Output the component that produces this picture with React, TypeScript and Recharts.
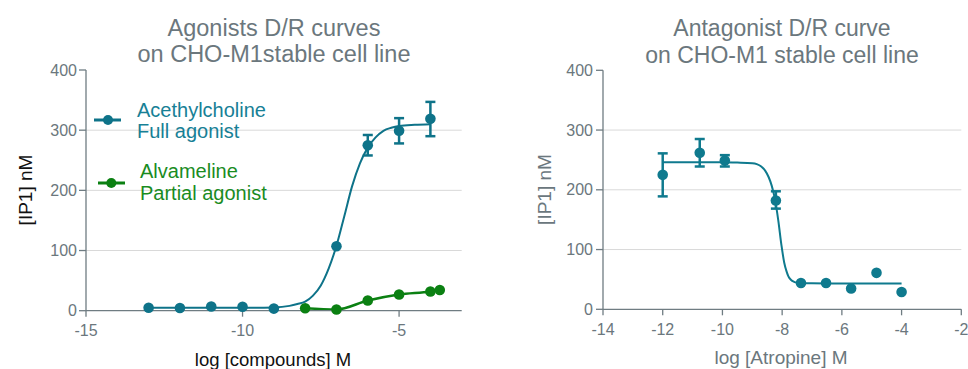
import React from 'react';
import { ComposedChart, Line, Scatter, XAxis, YAxis, ErrorBar, ReferenceLine } from 'recharts';

const FONT = '"Liberation Sans", Arial, Helvetica, sans-serif';
const TEAL = '#0e7389';
const TEAL_TEXT = '#178096';
const TEAL_R = '#0f7a8e';
const GREEN = '#0b8012';
const GREEN_TEXT = '#1a8c1f';
const AXIS = '#6f7c82';
const TICK_TEXT = '#6b777d';
const GRID = '#d9d9d9';

// shared axis values
const yTicks = [0, 100, 200, 300, 400];
const gridValues = [100, 200, 300];
const leftXTicks = [-15, -10, -5];
const rightXTicks = [-14, -12, -10, -8, -6, -4, -2];

// Left panel: Acetylcholine (full agonist)
const achPoints = [
  { x: -13, y: 5 },
  { x: -12, y: 4.5 },
  { x: -11, y: 7 },
  { x: -10, y: 6.5 },
  { x: -9, y: 3.5 },
  { x: -7, y: 107 },
];
const achPointsErr = [
  { x: -6, y: 275, err: [17, 17] },
  { x: -5, y: 299, err: [21, 21] },
  { x: -4, y: 319, err: [29, 28] },
];
const achCurve = [
  { x: -13, y: 5 }, { x: -12, y: 5 }, { x: -11, y: 5 }, { x: -10, y: 5 },
  { x: -9, y: 5.5 }, { x: -8.5, y: 8 }, { x: -8.25, y: 11 }, { x: -8, y: 15 },
  { x: -7.75, y: 25 }, { x: -7.5, y: 42 }, { x: -7.25, y: 70 }, { x: -7, y: 108 },
  { x: -6.75, y: 157 }, { x: -6.5, y: 207 }, { x: -6.25, y: 245 }, { x: -6, y: 271 },
  { x: -5.75, y: 288 }, { x: -5.5, y: 299 }, { x: -5.25, y: 304 }, { x: -5, y: 307 },
  { x: -4.5, y: 309 }, { x: -4, y: 310 },
];

// Left panel: Alvameline (partial agonist)
const alvPoints = [
  { x: -8, y: 4 },
  { x: -7, y: 2 },
  { x: -6, y: 17 },
  { x: -5, y: 27 },
  { x: -4, y: 32 },
  { x: -3.7, y: 34.5 },
];

// Right panel: Atropine (antagonist)
const atrPoints = [
  { x: -7.37, y: 44 },
  { x: -6.53, y: 44 },
  { x: -5.69, y: 35 },
  { x: -4.84, y: 61 },
  { x: -4, y: 29 },
];
const atrPointsErr = [
  { x: -12, y: 225, err: [36, 36] },
  { x: -10.76, y: 262, err: [23, 23] },
  { x: -9.92, y: 249, err: [10, 9] },
  { x: -8.21, y: 182, err: [13.5, 15.5] },
];
const atrCurve = [
  { x: -12, y: 246 }, { x: -11, y: 246 }, { x: -10, y: 246 }, { x: -9.5, y: 245.5 },
  { x: -9, y: 244.5 }, { x: -8.85, y: 243 }, { x: -8.7, y: 239 }, { x: -8.57, y: 232 },
  { x: -8.45, y: 221 }, { x: -8.35, y: 207 }, { x: -8.24, y: 184 }, { x: -8.13, y: 149 },
  { x: -8.02, y: 106 }, { x: -7.93, y: 78 }, { x: -7.85, y: 63 }, { x: -7.79, y: 55 },
  { x: -7.7, y: 49 }, { x: -7.6, y: 46 }, { x: -7.5, y: 44.5 }, { x: -7.4, y: 44 },
  { x: -7, y: 43.5 }, { x: -6, y: 43 }, { x: -5, y: 43 }, { x: -4, y: 43 },
];

const tickStyle = { fontSize: 16, fill: TICK_TEXT, fontFamily: FONT };

const dotShape = (color: string) => (p: any) => (
  <circle cx={p.cx} cy={p.cy} r={5.3} fill={color} stroke="none" />
);

export default function App() {
  return (
    <div style={{ position: 'absolute', left: 0, top: 0, width: 968, height: 369, background: '#fff', fontFamily: FONT }}>
      <div style={{ position: 'absolute', left: 0, top: 0 }}>
        <ComposedChart width={480} height={369} margin={{ top: 70, right: 18.3, bottom: 28.3, left: 26 }}>
          <XAxis
            type="number"
            dataKey="x"
            domain={[-15, -3]}
            ticks={leftXTicks}
            allowDataOverflow
            stroke={AXIS}
            strokeWidth={1.3}
            tickSize={6}
            tickMargin={8}
            tick={tickStyle}
            height={30}
          />
          <YAxis
            type="number"
            domain={[0, 400]}
            ticks={yTicks}
            stroke={AXIS}
            strokeWidth={1.3}
            tickSize={7}
            tickMargin={2}
            tick={tickStyle}
            width={60}
          />
          {gridValues.map((v) => (
            <ReferenceLine key={v} y={v} stroke={GRID} strokeWidth={1} />
          ))}
          <Line data={achCurve} dataKey="y" type="monotone" stroke={TEAL} strokeWidth={2} dot={false} isAnimationActive={false} />
          <Scatter data={achPoints} dataKey="y" fill={TEAL} shape={dotShape(TEAL)} isAnimationActive={false} />
          <Scatter data={achPointsErr} dataKey="y" fill={TEAL} shape={dotShape(TEAL)} isAnimationActive={false}>
            <ErrorBar dataKey="err" direction="y" width={5} stroke={TEAL} strokeWidth={2.5} isAnimationActive={false} />
          </Scatter>
          <Line
            data={alvPoints}
            dataKey="y"
            type="monotone"
            stroke={GREEN}
            strokeWidth={2.5}
            dot={{ r: 5.3, fill: GREEN, stroke: 'none' }}
            isAnimationActive={false}
          />
        </ComposedChart>
      </div>
      <div style={{ position: 'absolute', left: 488, top: 0 }}>
        <ComposedChart width={480} height={369} margin={{ top: 70.3, right: 6.7, bottom: 29.7, left: 55 }} style={{ overflow: 'visible' }}>
          <XAxis
            type="number"
            dataKey="x"
            domain={[-14, -2]}
            ticks={rightXTicks}
            stroke={AXIS}
            strokeWidth={1.3}
            tickSize={6}
            tickMargin={8}
            tick={tickStyle}
            height={30}
          />
          <YAxis
            type="number"
            domain={[0, 400]}
            ticks={yTicks}
            stroke={AXIS}
            strokeWidth={1.3}
            tickSize={7}
            tickMargin={3}
            tick={tickStyle}
            width={60}
          />
          {gridValues.map((v) => (
            <ReferenceLine key={v} y={v} stroke={GRID} strokeWidth={1} />
          ))}
          <Line data={atrCurve} dataKey="y" type="monotone" stroke={TEAL_R} strokeWidth={2} dot={false} isAnimationActive={false} />
          <Scatter data={atrPoints} dataKey="y" fill={TEAL_R} shape={dotShape(TEAL_R)} isAnimationActive={false} />
          <Scatter data={atrPointsErr} dataKey="y" fill={TEAL_R} shape={dotShape(TEAL_R)} isAnimationActive={false}>
            <ErrorBar dataKey="err" direction="y" width={5} stroke={TEAL_R} strokeWidth={2.5} isAnimationActive={false} />
          </Scatter>
        </ComposedChart>
      </div>
      <svg
        width={968}
        height={369}
        style={{ position: 'absolute', left: 0, top: 0, pointerEvents: 'none', overflow: 'visible' }}
        fontFamily={FONT}
      >
        {/* Left title */}
        <text x={274} y={36} textAnchor="middle" fontSize={23.5} fill={TICK_TEXT}>Agonists D/R curves</text>
        <text x={274} y={62} textAnchor="middle" fontSize={23.5} fill={TICK_TEXT}>on CHO-M1stable cell line</text>
        {/* Right title */}
        <text x={782} y={36} textAnchor="middle" fontSize={23} fill={TICK_TEXT}>Antagonist D/R curve</text>
        <text x={782} y={62.5} textAnchor="middle" fontSize={23} fill={TICK_TEXT}>on CHO-M1 stable cell line</text>
        {/* Axis labels */}
        <text x={31.5} y={190} textAnchor="middle" fontSize={19} fill="#111" transform="rotate(-90 31.5 190)">[IP1] nM</text>
        <text x={273} y={365.5} textAnchor="middle" fontSize={18.5} fill="#111">log [compounds] M</text>
        <text x={551} y={189.5} textAnchor="middle" fontSize={19} fill={TICK_TEXT} transform="rotate(-90 551 189.5)">[IP1] nM</text>
        <text x={781} y={364} textAnchor="middle" fontSize={19} fill={TICK_TEXT}>log [Atropine] M</text>
        {/* Legend */}
        <line x1={94} y1={120} x2={121} y2={120} stroke={TEAL} strokeWidth={3} />
        <circle cx={108} cy={120} r={5} fill={TEAL} />
        <text x={137} y={116.7} fontSize={20} fill={TEAL_TEXT}>Acethylcholine</text>
        <text x={137} y={138.3} fontSize={20} fill={TEAL_TEXT}>Full agonist</text>
        <line x1={98} y1={183} x2={125} y2={183} stroke={GREEN} strokeWidth={3} />
        <circle cx={111.3} cy={183} r={5} fill={GREEN} />
        <text x={140} y={178.3} fontSize={20} fill={GREEN_TEXT}>Alvameline</text>
        <text x={140} y={200} fontSize={20} fill={GREEN_TEXT}>Partial agonist</text>
      </svg>
    </div>
  );
}
